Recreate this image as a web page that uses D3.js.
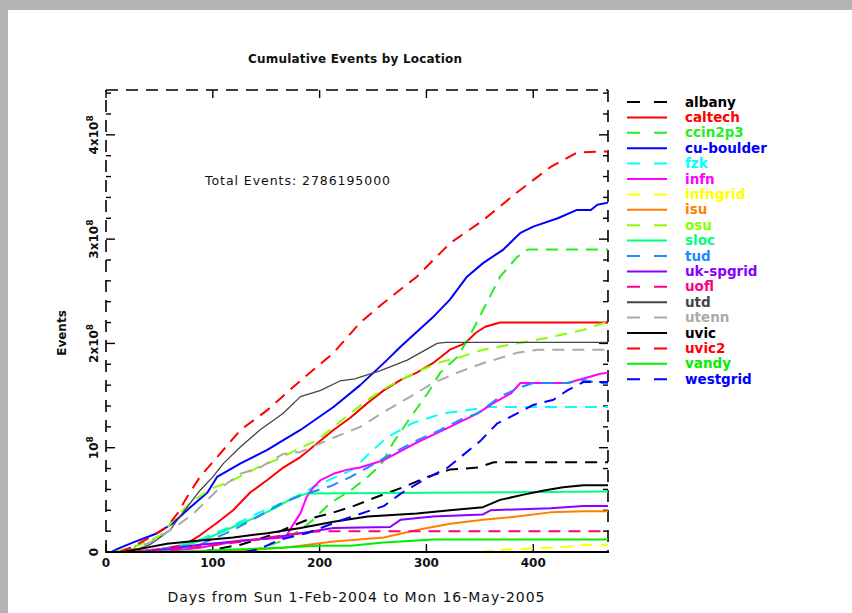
<!DOCTYPE html>
<html><head><meta charset="utf-8">
<script src="https://cdn.jsdelivr.net/npm/d3@7"></script>
<style>
html,body{margin:0;padding:0;background:#b3b3b3;overflow:hidden;}
svg{display:block;}
text{font-family:"DejaVu Sans","Liberation Sans",Arial,sans-serif;}
</style></head><body>
<svg id="c" width="852" height="613"></svg>
<script>
// ---- data (values in millions of events, days since 1-Feb-2004) ----
const UNIT = 1e6;
const names  = ["albany","caltech","ccin2p3","cu-boulder","fzk","infn","infngrid","isu","osu","sloc","tud","uk-spgrid","uofl","utd","utenn","uvic","uvic2","vandy","westgrid"];
const colors = ["#000000","#ff0000","#22ee22","#0000ff","#00ffff","#ff00ff","#ffff00","#ff8000","#88ff00","#00ff80","#2288ff","#8800ff","#ff0080","#444444","#aaaaaa","#000000","#ff0000","#00ee00","#0000ff"];
const dashed = [true,false,true,false,true,false,true,false,true,false,true,false,true,false,true,false,true,false,true];
const xTicks = [0,100,200,300,400];
const yTicks = [0,1e8,2e8,3e8,4e8];
const yTickLabels = [["0",""],["10","8"],["2x10","8"],["3x10","8"],["4x10","8"]];
const totalEvents = "2786195000";

const albany   = [[88,0],[126,7],[154,16],[172,24],[191,32],[210,37],[229,43],[254,53],[278,62],[301,72],[322,79],[348,81],[363,86],[470,86]];
const caltech  = [[22,0],[51,3],[74,7],[88,16],[104,28],[119,40],[135,57],[151,69],[166,81],[182,91],[201,107],[213,117],[229,129],[245,143],[260,155],[276,165],[291,172],[306,181],[322,194],[336,200],[346,210],[355,216],[369,220],[470,220]];
const ccin2p3  = [[135,0],[163,10],[182,21],[194,31],[210,47],[229,59],[245,72],[257,83],[269,105],[285,129],[301,152],[313,172],[329,187],[341,208],[353,232],[369,264],[385,283],[395,290],[470,290]];
const cuBoulder= [[5,0],[13,4],[25,9],[48,18],[63,28],[79,43],[95,57],[104,72],[126,85],[151,98],[182,117],[213,139],[238,160],[263,184],[276,197],[306,225],[322,242],[338,264],[353,277],[372,290],[388,306],[400,312],[423,320],[441,328],[454,328],[460,333],[470,335]];
const fzk      = [[32,0],[60,4],[88,12],[116,24],[144,38],[172,50],[194,62],[213,71],[231,79],[245,93],[263,110],[288,124],[316,133],[338,136],[357,139],[470,139]];
const infn     = [[51,0],[88,4],[126,11],[168,14],[175,26],[182,37],[188,53],[194,62],[201,69],[213,75],[226,79],[238,81],[260,88],[291,105],[322,120],[348,133],[363,143],[379,152],[388,162],[432,162],[463,171],[470,172]];
const infngrid = [[351,0],[369,2],[432,5],[449,7],[470,7]];
const isu      = [[79,0],[135,2],[166,4],[182,6],[213,10],[260,14],[291,21],[322,27],[353,31],[385,34],[416,38],[447,39],[470,39]];
const osu      = [[8,0],[32,7],[51,16],[65,33],[79,47],[97,60],[119,69],[142,81],[163,90],[182,100],[198,107],[213,120],[229,133],[245,146],[263,158],[276,165],[294,174],[313,182],[332,187],[353,194],[385,200],[416,206],[447,213],[470,221]];
const sloc     = [[41,0],[72,5],[97,14],[119,24],[142,34],[160,43],[175,52],[188,56],[470,58]];
const tud      = [[51,0],[88,7],[119,21],[144,35],[163,46],[182,54],[210,63],[229,72],[245,81],[269,95],[291,107],[313,117],[332,127],[348,133],[369,149],[388,158],[400,162],[432,162],[447,165],[463,162],[470,162]];
const ukSpgrid = [[32,0],[88,7],[151,13],[188,19],[213,23],[266,24],[276,31],[306,34],[353,36],[360,40],[416,42],[447,44],[470,44]];
const uofl     = [[41,0],[88,5],[135,11],[172,17],[201,20],[470,20]];
const utd      = [[22,0],[41,7],[60,21],[67,31],[76,43],[88,59],[100,72],[110,85],[126,101],[144,117],[166,133],[182,149],[201,155],[219,164],[233,166],[257,174],[282,184],[310,200],[318,201],[470,201]];
const utenn    = [[18,0],[41,9],[65,24],[82,37],[104,59],[126,75],[144,81],[166,94],[182,96],[207,107],[238,120],[263,136],[285,149],[306,162],[329,172],[353,181],[385,191],[404,194],[470,194]];
const uvic     = [[13,0],[32,3],[57,8],[88,11],[119,14],[151,18],[182,23],[213,29],[245,34],[291,37],[322,40],[353,43],[369,50],[391,55],[410,59],[428,62],[447,64],[470,64]];
const uvic2    = [[13,0],[25,5],[41,14],[57,24],[67,37],[76,53],[88,72],[104,91],[126,117],[151,136],[175,158],[213,191],[238,220],[260,239],[291,264],[322,296],[353,318],[385,345],[416,369],[441,383],[466,384],[470,384]];
const vandy    = [[60,0],[107,2],[163,4],[198,6],[229,6],[260,9],[291,11],[306,12],[470,12]];
const westgrid = [[130,0],[144,3],[163,12],[188,18],[219,30],[245,39],[260,44],[276,56],[297,69],[320,81],[332,91],[351,107],[366,123],[385,133],[400,141],[419,146],[432,155],[447,163],[470,163]];

const seriesData = [albany,caltech,ccin2p3,cuBoulder,fzk,infn,infngrid,isu,osu,sloc,tud,ukSpgrid,uofl,utd,utenn,uvic,uvic2,vandy,westgrid];

// ---- drawing ----
const svg = d3.select("#c");
svg.append("rect").attr("x",8).attr("y",10).attr("width",852-8).attr("height",613-10).attr("fill","#ffffff");

const x = d3.scaleLinear().domain([0,470]).range([106,608]);
const y = d3.scaleLinear().domain([0,4.43e8]).range([552,90]);
const DASH = "12,8";

// frame (dashed, as in original)
const frame = svg.append("g").attr("stroke","#000").attr("stroke-width",1.6).attr("fill","none");
frame.append("line").attr("x1",x(0)).attr("x2",x(0)).attr("y1",y(0)).attr("y2",y(4.43e8)).attr("stroke-dasharray",DASH);
frame.append("line").attr("x1",x(0)).attr("x2",x(470)).attr("y1",y(4.43e8)).attr("y2",y(4.43e8)).attr("stroke-dasharray",DASH);
frame.append("line").attr("x1",x(470)).attr("x2",x(470)).attr("y1",y(4.43e8)).attr("y2",y(0)).attr("stroke-dasharray",DASH);

// ticks
const yMinor = d3.range(0, 4.43e8, 2e7);
const tk = svg.append("g").attr("stroke","#000").attr("stroke-width",1.4);
yMinor.forEach(v=>{
  const major = Math.abs(v % 1e8) < 1;
  const L = major ? 9 : 5;
  tk.append("line").attr("x1",x(0)).attr("x2",x(0)+L).attr("y1",y(v)).attr("y2",y(v));
  tk.append("line").attr("x1",x(470)).attr("x2",x(470)-L).attr("y1",y(v)).attr("y2",y(v));
});
xTicks.forEach(d=>{
  tk.append("line").attr("x1",x(d)).attr("x2",x(d)).attr("y1",y(0)).attr("y2",y(0)-8);
  tk.append("line").attr("x1",x(d)).attr("x2",x(d)).attr("y1",y(4.43e8)).attr("y2",y(4.43e8)+8);
});

// lines
const line = d3.line().x(p=>x(p[0])).y(p=>y(p[1]*UNIT));
const gl = svg.append("g").attr("fill","none");
seriesData.forEach((s,i)=>{
  gl.append("path").attr("d",line(s))
    .attr("stroke",colors[i])
    .attr("stroke-width", names[i]==="utd" ? 1.3 : 2)
    .attr("stroke-dasharray", dashed[i] ? DASH : null)
    .attr("stroke-linejoin","round");
});

// bottom axis (solid)
svg.append("line").attr("x1",x(0)-1).attr("x2",x(470)+1).attr("y1",y(0)).attr("y2",y(0)).attr("stroke","#000").attr("stroke-width",2.2);

// x tick labels
xTicks.forEach(d=>{
  svg.append("text").attr("x",x(d)).attr("y",567).attr("text-anchor","middle")
    .attr("font-size",12).attr("font-weight","bold").attr("fill","#111").text(d);
});
// y tick labels (rotated)
yTicks.forEach((v,i)=>{
  const t = svg.append("text").attr("transform",`translate(98,${y(v)}) rotate(-90)`)
    .attr("text-anchor","middle").attr("font-size",12).attr("font-weight","bold").attr("fill","#111");
  t.append("tspan").text(yTickLabels[i][0]);
  if (yTickLabels[i][1]) t.append("tspan").attr("dy",-5).attr("font-size",9).text(yTickLabels[i][1]);
});

// titles
svg.append("text").attr("x",355).attr("y",63).attr("text-anchor","middle").attr("font-size",12)
  .attr("font-weight","bold").attr("fill","#111").attr("textLength",214).text("Cumulative Events by Location");
svg.append("text").attr("x",205).attr("y",185).attr("font-size",12.5).attr("fill","#111")
  .attr("textLength",185).text("Total Events: " + totalEvents);
svg.append("text").attr("x",356).attr("y",602).attr("text-anchor","middle").attr("font-size",14)
  .attr("fill","#111").attr("textLength",377).text("Days from Sun 1-Feb-2004 to Mon 16-May-2005");
svg.append("text").attr("transform","translate(66,333) rotate(-90)").attr("text-anchor","middle")
  .attr("font-size",12).attr("font-weight","bold").attr("fill","#111").text("Events");

// legend
const lg = svg.append("g");
names.forEach((n,i)=>{
  const yy = 102 + i*15.4;
  lg.append("line").attr("x1",627).attr("x2",667).attr("y1",yy).attr("y2",yy)
    .attr("stroke",colors[i]).attr("stroke-width",2)
    .attr("stroke-dasharray", dashed[i] ? "13,14" : null);
  lg.append("text").attr("x",685).attr("y",yy+4.5).attr("font-size",13.5).attr("font-weight","bold")
    .attr("fill",colors[i]).text(n);
});
</script>
</body></html>
